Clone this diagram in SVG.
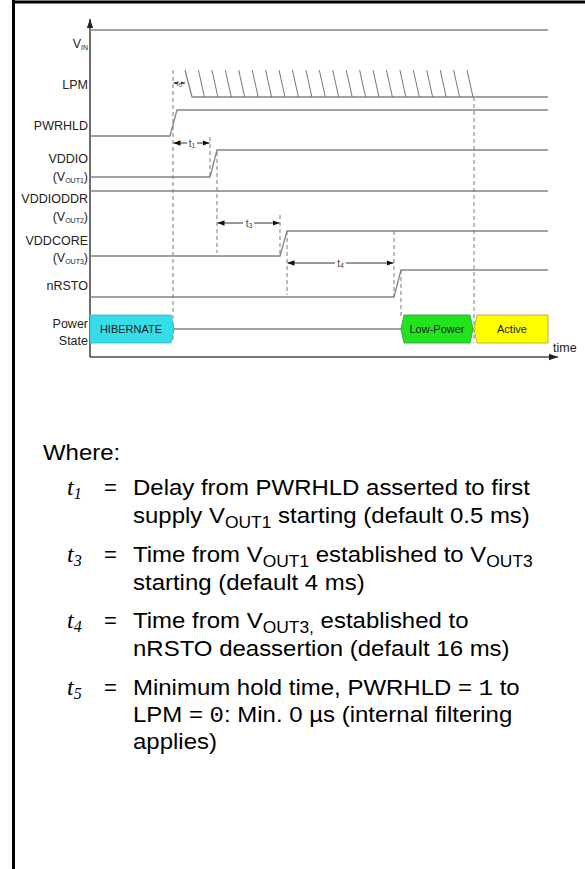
<svg xmlns="http://www.w3.org/2000/svg" width="585" height="869" viewBox="0 0 585 869">
<defs>
<style>
.wave{fill:none;stroke:#858585;stroke-width:1.3}
.dash{fill:none;stroke:#7a7a7a;stroke-width:1;stroke-dasharray:4 3}
.axis{fill:none;stroke:#4a4a4a;stroke-width:1.6}
.hatch{fill:none;stroke:#666;stroke-width:0.9}
.dim{fill:none;stroke:#333;stroke-width:1}
.lbl{font-family:"Liberation Sans",Arial,sans-serif;font-size:12.5px;fill:#222;text-anchor:end}
.sub{font-size:7px}
.tl{font-family:"Liberation Sans",Arial,sans-serif;font-size:10px;fill:#444;text-anchor:middle}
.box{font-family:"Liberation Sans",Arial,sans-serif;font-size:11px;fill:#222;text-anchor:middle}
.leg{font-family:"Liberation Sans",Arial,sans-serif;font-size:22px;fill:#000}
.lsub{font-size:16px}
.tvar{font-family:"Liberation Serif","Times New Roman",serif;font-style:italic;font-size:24px;fill:#000}
.mono{font-family:"Liberation Mono","Courier New",monospace}
</style>
<marker id="ah" viewBox="0 0 10 10" refX="10" refY="5" markerWidth="7" markerHeight="7" orient="auto" markerUnits="userSpaceOnUse">
<path d="M0,1 L10,5 L0,9 Z" fill="#111"/>
</marker>
<marker id="ahs" viewBox="0 0 10 10" refX="10" refY="5" markerWidth="4" markerHeight="4" orient="auto" markerUnits="userSpaceOnUse">
<path d="M0,1 L10,5 L0,9 Z" fill="#333"/>
</marker>
<marker id="axh" viewBox="0 0 10 10" refX="10" refY="5" markerWidth="9" markerHeight="9" orient="auto" markerUnits="userSpaceOnUse">
<path d="M0,1.5 L10,5 L0,8.5 Z" fill="#222"/>
</marker>
</defs>
<rect width="585" height="869" fill="#fff"/>
<line x1="12" y1="2" x2="585" y2="2" stroke="#000" stroke-width="3"/>
<line x1="13.5" y1="0" x2="13.5" y2="869" stroke="#000" stroke-width="3"/>

<g id="axes">
<line class="axis" x1="90" y1="357" x2="90" y2="19" marker-end="url(#axh)"/>
<line class="axis" x1="90" y1="357" x2="558" y2="357" marker-end="url(#axh)"/>
<text x="553" y="352" style="font-family:'Liberation Sans',Arial,sans-serif;font-size:12.5px;fill:#222">time</text>
</g>

<g id="labels">
<text class="lbl" x="88" y="48">V<tspan class="sub" dy="2">IN</tspan></text>
<text class="lbl" x="88" y="89">LPM</text>
<text class="lbl" x="88" y="130">PWRHLD</text>
<text class="lbl" x="88" y="163">VDDIO</text>
<text class="lbl" x="88" y="181">(V<tspan class="sub" dy="2">OUT1</tspan><tspan dy="-2">)</tspan></text>
<text class="lbl" x="88" y="203">VDDIODDR</text>
<text class="lbl" x="88" y="221">(V<tspan class="sub" dy="2">OUT2</tspan><tspan dy="-2">)</tspan></text>
<text class="lbl" x="88" y="245">VDDCORE</text>
<text class="lbl" x="88" y="262">(V<tspan class="sub" dy="2">OUT3</tspan><tspan dy="-2">)</tspan></text>
<text class="lbl" x="88" y="290">nRSTO</text>
<text class="lbl" x="88" y="328">Power</text>
<text class="lbl" x="88" y="345">State</text>
</g>

<g id="waves">
<polyline id="vin" class="wave" points="90,30 548,30"/>
<polyline id="lpm" class="wave" points="185,70 192,97 548,97"/>
<g id="lpm-hatch" class="hatch">
<line x1="198.4" y1="70" x2="204.4" y2="97"/>
<line x1="211.9" y1="70" x2="217.9" y2="97"/>
<line x1="225.3" y1="70" x2="231.3" y2="97"/>
<line x1="238.7" y1="70" x2="244.7" y2="97"/>
<line x1="252.2" y1="70" x2="258.2" y2="97"/>
<line x1="265.6" y1="70" x2="271.6" y2="97"/>
<line x1="279.0" y1="70" x2="285.0" y2="97"/>
<line x1="292.4" y1="70" x2="298.4" y2="97"/>
<line x1="305.9" y1="70" x2="311.9" y2="97"/>
<line x1="319.3" y1="70" x2="325.3" y2="97"/>
<line x1="332.7" y1="70" x2="338.7" y2="97"/>
<line x1="346.2" y1="70" x2="352.2" y2="97"/>
<line x1="359.6" y1="70" x2="365.6" y2="97"/>
<line x1="373.0" y1="70" x2="379.0" y2="97"/>
<line x1="386.4" y1="70" x2="392.4" y2="97"/>
<line x1="399.9" y1="70" x2="405.9" y2="97"/>
<line x1="413.3" y1="70" x2="419.3" y2="97"/>
<line x1="426.7" y1="70" x2="432.7" y2="97"/>
<line x1="440.2" y1="70" x2="446.2" y2="97"/>
<line x1="453.6" y1="70" x2="459.6" y2="97"/>
<line x1="467.0" y1="70" x2="473.0" y2="97"/>
</g>
<polyline id="pwrhld" class="wave" points="90,136 170,136 177,110 548,110"/>
<polyline id="vddio" class="wave" points="90,177 210,177 217,150 548,150"/>
<polyline id="vddioddr" class="wave" points="90,191 548,191"/>
<polyline id="vddcore" class="wave" points="90,256 280,256 287,231 548,231"/>
<polyline id="nrsto" class="wave" points="90,297 394,297 401,270 548,270"/>
<polyline id="pstate" class="wave" points="170,329 403,329"/>
</g>

<g id="guides">
<line class="dash" x1="173" y1="70" x2="173" y2="343"/>
<line class="dash" x1="210" y1="137" x2="210" y2="177"/>
<line class="dash" x1="217" y1="152" x2="217" y2="253"/>
<line class="dash" x1="280" y1="215" x2="280" y2="256"/>
<line class="dash" x1="287" y1="231" x2="287" y2="295"/>
<line class="dash" x1="394" y1="231" x2="394" y2="297"/>
<line class="dash" x1="401" y1="270" x2="401" y2="316"/>
<line class="dash" x1="474" y1="97" x2="474" y2="343"/>
</g>

<g id="dimensions">
<line class="dim" x1="176" y1="83" x2="173.5" y2="83" marker-end="url(#ahs)"/>
<line class="dim" x1="182.5" y1="83" x2="185" y2="83" marker-end="url(#ahs)"/>
<text class="tl" x="179.3" y="86" style="font-size:8px">t<tspan style="font-size:5.5px" dy="1">5</tspan></text>
<line class="dim" x1="187" y1="143" x2="173.5" y2="143" marker-end="url(#ah)"/>
<line class="dim" x1="197" y1="143" x2="209.5" y2="143" marker-end="url(#ah)"/>
<text class="tl" x="192" y="146.5">t<tspan style="font-size:7px" dy="1">1</tspan></text>
<line class="dim" x1="243" y1="223" x2="217.5" y2="223" marker-end="url(#ah)"/>
<line class="dim" x1="254" y1="223" x2="279.5" y2="223" marker-end="url(#ah)"/>
<text class="tl" x="249" y="226.5">t<tspan style="font-size:7px" dy="1">3</tspan></text>
<line class="dim" x1="335" y1="263" x2="287.5" y2="263" marker-end="url(#ah)"/>
<line class="dim" x1="346" y1="263" x2="393.5" y2="263" marker-end="url(#ah)"/>
<text class="tl" x="340.5" y="266.5">t<tspan style="font-size:7px" dy="1">4</tspan></text>
</g>

<g id="hibernate">
<polygon points="90,315 171,315 174,329 171,343 90,343" fill="#35DDE6" stroke="#2bb8c0" stroke-width="0.8"/>
<text class="box" x="131" y="333">HIBERNATE</text>
</g>
<g id="lowpower">
<polygon points="401,329 404,315 470,315 473,329 470,343 404,343" fill="#22E41E" stroke="#2a9a2a" stroke-width="0.8"/>
<text class="box" x="437" y="333">Low-Power</text>
</g>
<g id="active">
<polygon points="474,329 477,315 548,315 548,343 477,343" fill="#FFFF00" stroke="#a8a030" stroke-width="0.8"/>
<text class="box" x="512" y="333">Active</text>
</g>

<g id="legend">
<text class="leg" transform="translate(43 460) scale(1.09 1)">Where:</text>

<text class="tvar" x="67" y="495">t<tspan class="lsub" dy="4">1</tspan></text>
<text class="leg" x="104" y="495">=</text>
<text class="leg" transform="translate(133 495) scale(1.09 1)">Delay from PWRHLD asserted to first</text>
<text class="leg" transform="translate(133 523) scale(1.09 1)">supply V<tspan class="lsub" dy="5">OUT1</tspan><tspan dy="-5"> starting (default 0.5 ms)</tspan></text>

<text class="tvar" x="67" y="562">t<tspan class="lsub" dy="4">3</tspan></text>
<text class="leg" x="104" y="562">=</text>
<text class="leg" transform="translate(133 562) scale(1.09 1)">Time from V<tspan class="lsub" dy="5">OUT1</tspan><tspan dy="-5"> established to V</tspan><tspan class="lsub" dy="5">OUT3</tspan></text>
<text class="leg" transform="translate(133 590) scale(1.09 1)">starting (default 4 ms)</text>

<text class="tvar" x="67" y="628">t<tspan class="lsub" dy="4">4</tspan></text>
<text class="leg" x="104" y="628">=</text>
<text class="leg" transform="translate(133 628) scale(1.09 1)">Time from V<tspan class="lsub" dy="5">OUT3,</tspan><tspan dy="-5"> established to</tspan></text>
<text class="leg" transform="translate(133 656) scale(1.09 1)">nRSTO deassertion (default 16 ms)</text>

<text class="tvar" x="67" y="695">t<tspan class="lsub" dy="4">5</tspan></text>
<text class="leg" x="104" y="695">=</text>
<text class="leg" transform="translate(133 695) scale(1.09 1)">Minimum hold time, PWRHLD = <tspan class="mono">1</tspan> to</text>
<text class="leg" transform="translate(133 722) scale(1.09 1)">LPM = <tspan class="mono">0</tspan>: Min. 0 µs (internal filtering</text>
<text class="leg" transform="translate(133 749) scale(1.09 1)">applies)</text>
</g>
</svg>
